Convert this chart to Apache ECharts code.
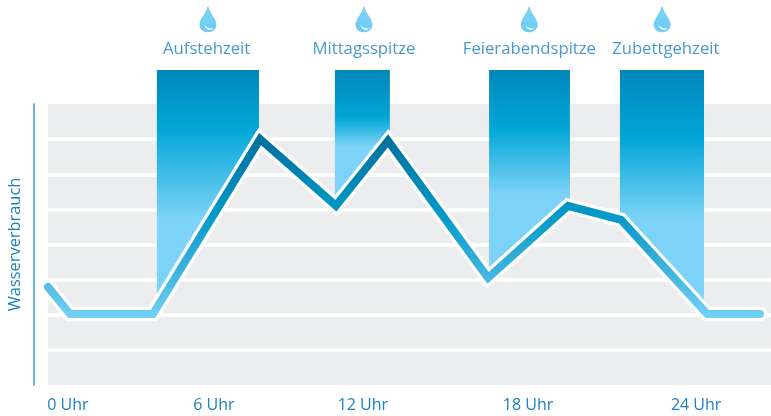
<!DOCTYPE html>
<html>
<head>
<meta charset="utf-8">
<style>html,body{margin:0;background:#fff}#c{width:771px;height:416px}</style>
<script src="https://cdn.jsdelivr.net/npm/echarts@6/dist/echarts.min.js"></script>
</head>
<body>
<div id="c"></div>
<script>
const lineHours = [-0.76, 0.08, 3.25, 7.34, 10.24, 12.23, 16.05, 19.11, 21.13, 24.42, 26.44]
const lineValues = [2.79, 2.02, 2.02, 7.0, 5.1, 6.95, 3.05, 5.1, 4.7, 2.02, 2.02]

const tickLabels = ['0 Uhr', '6 Uhr', '12 Uhr', '18 Uhr', '24 Uhr']
const tickHours = [0, 5.58, 11.27, 17.58, 24]

const peakNames = ['Aufstehzeit', 'Mittagsspitze', 'Feierabendspitze', 'Zubettgehzeit']
const peakLabelHours = [5.3, 11.31, 17.63, 22.84]
const peakDropHours = [5.35, 11.31, 17.62, 22.7]
const peakStart = [3.4, 10.2, 16.09, 21.09]
const peakEnd = [7.3, 12.3, 19.18, 24.3]

const peakTop = 8.97
const dropLevel = 10.41
const labelLevel = 9.56
const xMin = -0.76, xMax = 26.86
const blue = '#1a80c0'
const font = 'Open Sans'

// mittlerer und heller Stopp je Spitze
const midStops = [0.24, 0.35, 0.28, 0.28]
const lightStops = [0.62, 0.56, 0.6, 0.62]

const lineAt = (h) => {
	for (let i = 1; i < lineHours.length; i++) {
		if (h <= lineHours[i]) {
			const t = (h - lineHours[i - 1]) / (lineHours[i] - lineHours[i - 1])
			return lineValues[i - 1] + t * (lineValues[i] - lineValues[i - 1])
		}
	}
	return lineValues[lineValues.length - 1]
}

const grad = (stops) => new echarts.graphic.LinearGradient(0, 0, 0, 1,
	stops.map(([offset, color]) => ({ offset, color })))

const lineColor = grad([
	[0, '#006f9b'], [0.42, '#0098c7'], [0.75, '#3fb4dd'], [1, '#74d1f6']
])

const dropPath = 'path://M8 0C9 6 16 12 16 18C16 22.500 12.500 25 8 25C3.500 25 0 22.500 0 18C0 12 7 6 8 0Z'
const glossPath = 'path://M0 0C1 3 4 5 9 4C7 7 1 7 0 0Z'

const chart = echarts.init(document.getElementById('c'), null, { renderer: 'canvas' })
chart.setOption({
	animation: false,
	backgroundColor: '#fff',
	grid: [
		{ left: 48, right: 0, top: 104, height: 281, show: true, backgroundColor: '#ecedef', borderWidth: 0, outerBoundsMode: 'none' },
		{ left: 48, right: 0, top: 0, height: 385, outerBoundsMode: 'none' }
	],
	xAxis: [
		{ type: 'value', gridIndex: 0, min: xMin, max: xMax, show: false },
		{
			type: 'value',
			gridIndex: 1,
			min: xMin,
			max: xMax,
			axisLine: { show: false },
			axisTick: { show: false },
			splitLine: { show: false },
			axisLabel: {
				customValues: tickHours,
				formatter: (v) => tickLabels[tickHours.indexOf(v)],
				color: blue,
				fontFamily: font,
				fontSize: 16,
				margin: 12
			}
		}
	],
	yAxis: [
		{
			type: 'value',
			gridIndex: 0,
			min: 0,
			max: 8,
			interval: 1,
			offset: 14,
			name: 'Wasserverbrauch',
			nameLocation: 'middle',
			nameRotate: 90,
			nameGap: 11,
			nameTextStyle: { color: blue, fontFamily: font, fontSize: 16.4 },
			axisLine: { show: true, onZero: false, lineStyle: { color: '#6bb5dc', width: 2 } },
			axisTick: { show: false },
			axisLabel: { show: false },
			splitLine: { show: true, showMinLine: false, showMaxLine: false, lineStyle: { color: '#fff', width: 3.5 } }
		},
		{ type: 'value', gridIndex: 1, min: 0, max: 10.96, show: false }
	],
	series: [
		{
			type: 'custom',
			xAxisIndex: 1,
			yAxisIndex: 1,
			z: 3,
			clip: false,
			silent: true,
			data: peakStart.map((s, i) => [s, peakEnd[i], i]),
			renderItem: (params, api) => {
				const i = api.value(2), s = api.value(0), e = api.value(1)
				const inner = lineHours
					.map((h, k) => [h, lineValues[k]])
					.filter(([h]) => h > s && h < e)
					.reverse()
				const pts = [[s, peakTop], [e, peakTop], [e, lineAt(e)], ...inner, [s, lineAt(s)]]
				return {
					type: 'polygon',
					shape: { points: pts.map((p) => api.coord(p)) },
					style: {
						fill: grad([
							[0, '#0087ba'], [midStops[i], '#00a6d6'], [lightStops[i], '#7cd2f7'], [1, '#7cd2f7']
						])
					}
				}
			}
		},
		{
			type: 'line',
			xAxisIndex: 1,
			yAxisIndex: 1,
			z: 4,
			clip: false,
			symbol: 'none',
			silent: true,
			data: lineHours.map((h, i) => [h, lineValues[i]]),
			lineStyle: { color: '#fff', width: 14.5, cap: 'round', join: 'miter' }
		},
		{
			type: 'line',
			xAxisIndex: 1,
			yAxisIndex: 1,
			z: 5,
			clip: false,
			symbol: 'none',
			silent: true,
			data: lineHours.map((h, i) => [h, lineValues[i]]),
			lineStyle: { color: lineColor, width: 8, cap: 'round', join: 'miter' }
		},
		{
			type: 'scatter',
			xAxisIndex: 1,
			yAxisIndex: 1,
			z: 6,
			silent: true,
			symbol: dropPath,
			symbolSize: [16, 25],
			data: peakDropHours.map((h) => [h, dropLevel]),
			itemStyle: {
				opacity: 1,
				color: grad([[0, '#7fd4f8'], [1, '#6ccbf4']]),
				borderColor: '#58bbe6',
				borderWidth: 0.6
			}
		},
		{
			type: 'scatter',
			xAxisIndex: 1,
			yAxisIndex: 1,
			z: 7,
			silent: true,
			symbol: glossPath,
			symbolSize: [9, 5],
			symbolOffset: [1, 8],
			data: peakDropHours.map((h) => [h, dropLevel]),
			itemStyle: { opacity: 1, color: '#fff' }
		},
		{
			type: 'scatter',
			xAxisIndex: 1,
			yAxisIndex: 1,
			z: 7,
			silent: true,
			symbolSize: 1,
			data: peakLabelHours.map((h, i) => ({ value: [h, labelLevel], name: peakNames[i] })),
			itemStyle: { color: 'rgba(0,0,0,0)' },
			label: {
				show: true,
				position: 'inside',
				formatter: '{b}',
				color: blue,
				fontFamily: font,
				fontSize: 16.7
			}
		}
	]
})
</script>
</body>
</html>
